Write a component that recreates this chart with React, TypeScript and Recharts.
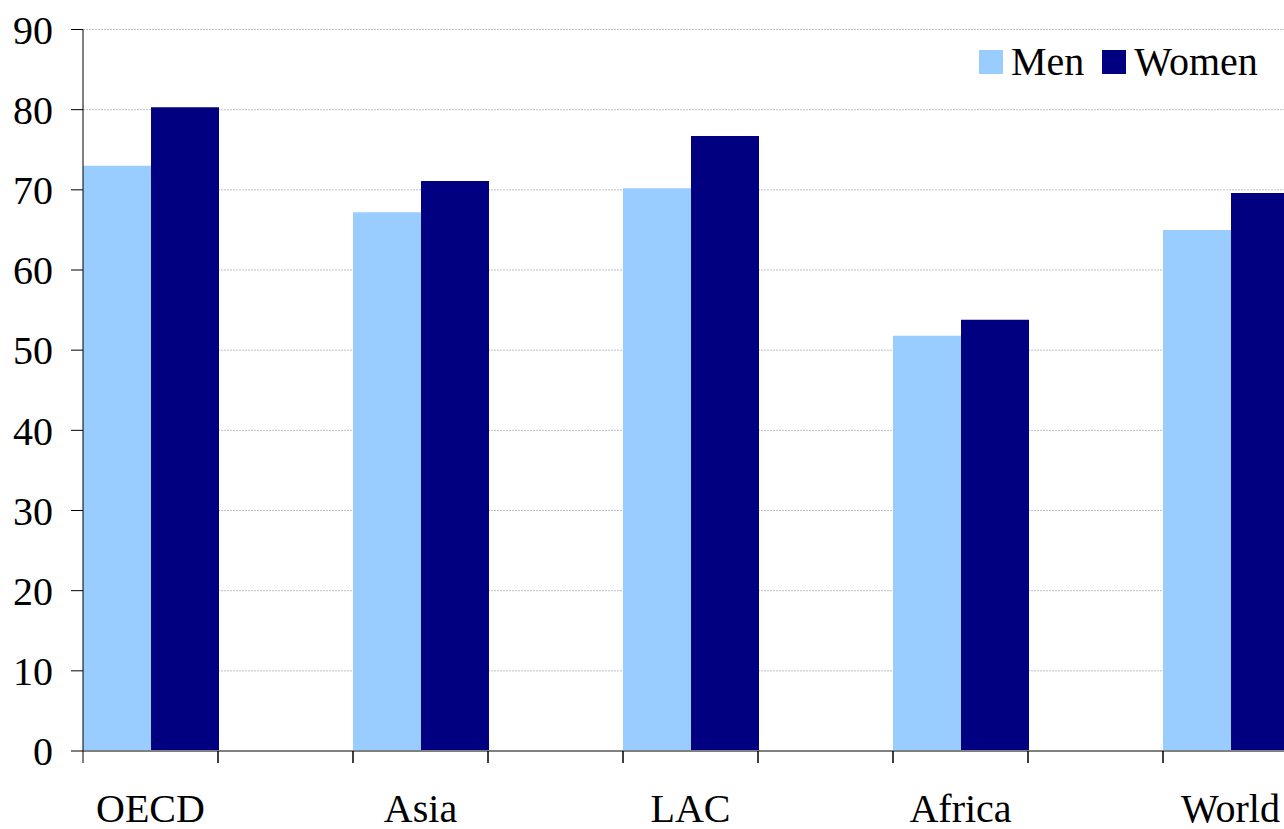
import { BarChart, Bar, XAxis, YAxis, CartesianGrid } from 'recharts'

// every other slot is empty, which is how the source chart spaces its groups
const categories = ['OECD', '', 'Asia', '', 'LAC', '', 'Africa', '', 'World', '']
const men = [73.0, null, 67.2, null, 70.2, null, 51.8, null, 65.0, null]
const women = [80.3, null, 71.1, null, 76.7, null, 53.8, null, 69.6, null]
const yTicks = [0, 10, 20, 30, 40, 50, 60, 70, 80, 90]

const data = categories.map((name, i) => ({ name, Men: men[i], Women: women[i] }))

const FONT = '"Liberation Serif", "Times New Roman", serif'
const Y_AXIS_W = 83
const BAND = 135
const PLOT_W = BAND * categories.length
const CHART_W = Y_AXIS_W + PLOT_W
const CHART_H = 829

const MEN_COLOR = '#99ccff'
const WOMEN_COLOR = '#000080'

function CategoryTick(props: any) {
  const { x, y, payload } = props
  const left = x - BAND / 2
  const right = x + BAND / 2
  return (
    <g>
      <line x1={left} x2={left} y1={y} y2={y + 12} stroke="#000" />
      <line x1={right} x2={right} y1={y} y2={y + 12} stroke="#000" />
      {payload.value ? (
        <text x={x} y={y + 71} textAnchor="middle" fontSize={40} fontFamily={FONT} fill="#000">
          {payload.value}
        </text>
      ) : null}
    </g>
  )
}

// legend drawn as an overlay so it takes no room from the plot
function LegendBox() {
  const item = (color: string, label: string, gap: number) => (
    <div style={{ display: 'flex', alignItems: 'center', marginRight: gap }}>
      <span style={{ width: 24, height: 24, background: color, marginRight: 8, display: 'inline-block' }} />
      <span>{label}</span>
    </div>
  )
  return (
    <div
      style={{
        position: 'absolute', left: 979, top: 42,
        display: 'flex', fontFamily: FONT, fontSize: 40, lineHeight: '40px', color: '#000',
      }}
    >
      {item(MEN_COLOR, 'Men', 18)}
      {item(WOMEN_COLOR, 'Women', 0)}
    </div>
  )
}

export default function App() {
  return (
    <div style={{ position: 'absolute', left: 0, top: 0, width: 1284, height: CHART_H, overflow: 'hidden', background: '#fff' }}>
      <BarChart
        width={CHART_W}
        height={CHART_H}
        data={data}
        margin={{ top: 29.5, right: 0, bottom: 0, left: 0 }}
        barCategoryGap={0}
        barGap={0}
      >
        <CartesianGrid vertical={false} stroke="#c0c0c0" strokeDasharray="2 1" />
        <XAxis
          dataKey="name"
          height={78}
          interval={0}
          tickLine={false}
          tickSize={0}
          tickMargin={0}
          axisLine={{ stroke: '#808080', strokeWidth: 2 }}
          tick={<CategoryTick />}
        />
        <YAxis
          width={Y_AXIS_W}
          domain={[0, 90]}
          ticks={yTicks}
          interval={0}
          tickSize={12}
          tickMargin={18}
          axisLine={{ stroke: '#000' }}
          tickLine={{ stroke: '#000' }}
          tick={{ fontSize: 40, fontFamily: FONT, fill: '#000' }}
        />
        <Bar dataKey="Men" fill={MEN_COLOR} isAnimationActive={false} />
        <Bar dataKey="Women" fill={WOMEN_COLOR} isAnimationActive={false} />
      </BarChart>
      <LegendBox />
    </div>
  )
}
